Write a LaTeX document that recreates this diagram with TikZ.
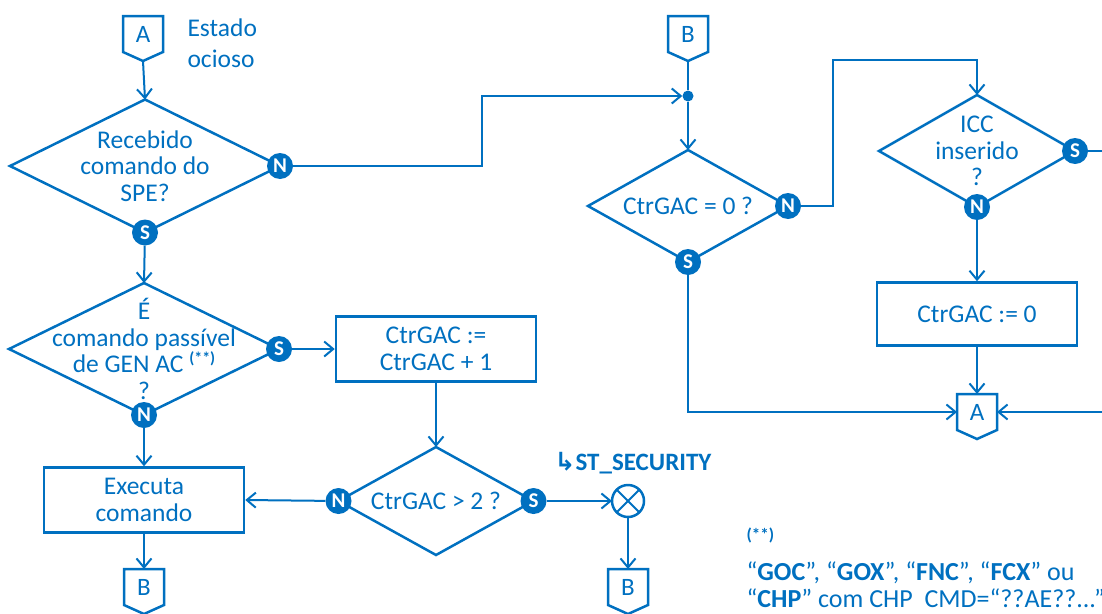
\documentclass[tikz,border=0pt]{standalone}
\usepackage{fontspec}
\setmainfont{Carlito}
\newfontfamily\symfont{DejaVu Sans}
\usetikzlibrary{shapes.geometric,arrows.meta}
\definecolor{flowblue}{HTML}{0070C0}
\tikzset{
  every node/.style={text=flowblue},
  box/.style={draw=flowblue,line width=2.5pt,minimum width=200pt,minimum height=65pt,inner sep=0pt,align=center,font=\fontsize{25.5}{27}\selectfont},
  decision/.style={draw=flowblue,line width=2.5pt,shape=diamond,inner sep=0pt,outer sep=0pt},
  qtext/.style={align=center,font=\fontsize{25.5}{26.5}\selectfont},
  yesno/.style={circle,fill=flowblue,text=white,inner sep=0pt,minimum size=26pt,font=\fontsize{21}{21}\bfseries\selectfont},
  pgbox/.style={minimum width=40pt,minimum height=36pt,inner sep=0pt,outer sep=0pt,font=\fontsize{25}{25}\selectfont},
  pgline/.style={draw=flowblue,line width=2.5pt,line join=miter},
  flow/.style={draw=flowblue,line width=2pt,-{Straight Barb[length=9pt,width=15pt]}},
  plain/.style={draw=flowblue,line width=2pt},
}
\newcommand{\offpage}[3]{%
  \node[pgbox] (#1) at #2 {#3};
  \draw[pgline] (#1.north west) -- (#1.north east) -- (#1.south east) -- ([yshift=-9pt]#1.south) coordinate (#1-tip) -- (#1.south west) -- cycle;}

\begin{document}
\begin{tikzpicture}[x=1pt,y=-1pt]
\useasboundingbox (0,0) rectangle (1102,613);
\clip (0,0) rectangle (1102,613);

\offpage{aTop}{(143,34)}{A}
\node[anchor=west,align=left,font=\fontsize{25.5}{31}\selectfont] (idle) at (184,43) {Estado\\ocioso};
\node[decision,minimum width=270pt,minimum height=133pt,label={[qtext]center:{Recebido\\comando do\\SPE?}}] (dSpe) at (145,166) {};
\node[yesno] (dSpeN) at (dSpe.east) {N};
\node[yesno] (dSpeS) at (dSpe.south) {S};
\node[decision,minimum width=270pt,minimum height=132pt,label={[qtext]center:{É\\comando passível\\de GEN AC {\fontsize{16}{16}\bfseries\selectfont\raisebox{9pt}{(**)}}\\?}}] (dGen) at (144,349) {};
\node[yesno] (dGenS) at (dGen.east) {S};
\node[yesno] (dGenN) at (dGen.south) {N};
\node[box] (incCtr) at (436,349) {CtrGAC :=\\CtrGAC + 1};
\node[box] (exec) at (144,500) {Executa\\comando};
\node[decision,minimum width=195pt,minimum height=108pt,label={[qtext]center:{CtrGAC > 2 ?}}] (dGt) at (436,501) {};
\node[yesno] (dGtN) at (dGt.west) {N};
\node[yesno] (dGtS) at (dGt.east) {S};
\node[circle,draw=flowblue,line width=2.5pt,minimum size=32pt,inner sep=0pt,outer sep=0pt] (xorSec) at (628,501) {};
\draw[plain] (xorSec.north west) -- (xorSec.south east) (xorSec.north east) -- (xorSec.south west);
\node[anchor=south,font=\fontsize{25}{25}\bfseries\selectfont] (secLbl) at (633,478) {{\symfont ↳}ST\_SECURITY};
\offpage{bLeft}{(144,587)}{B}
\offpage{bMid}{(628,587)}{B}

\offpage{bTop}{(688,34)}{B}
\node[circle,fill=flowblue,minimum size=11pt,inner sep=0pt] (jB) at (688,96) {};
\node[decision,minimum width=200pt,minimum height=112pt,label={[qtext]center:{CtrGAC = 0 ?}}] (dZero) at (688,206) {};
\node[yesno] (dZeroN) at (dZero.east) {N};
\node[yesno] (dZeroS) at (dZero.south) {S};
\node[decision,minimum width=196pt,minimum height=112pt,label={[qtext]center:{ICC\\inserido\\?}}] (dIcc) at (977,151) {};
\node[yesno] (dIccS) at (dIcc.east) {S};
\node[yesno] (dIccN) at (dIcc.south) {N};
\node[box,minimum height=63pt] (rstCtr) at (977,314) {CtrGAC := 0};
\offpage{aRight}{(977,412)}{A}
\coordinate (offS) at (1110,151);
\coordinate (offA) at (1110,412);

\node[anchor=base west,font=\fontsize{17}{17}\bfseries\selectfont] (noteMark) at (743,540) {(**)};
\node[anchor=base west,font=\fontsize{26}{26}\selectfont] (noteOne) at (743,580) {“\textbf{GOC}”, “\textbf{GOX}”, “\textbf{FNC}”, “\textbf{FCX}” ou};
\node[anchor=base west,font=\fontsize{26}{26}\selectfont] (noteTwo) at (743,607) {“\textbf{CHP}” com CHP\ \ CMD=“??AE??...”};

\draw[flow] (aTop-tip) -- (dSpe.north);
\draw[flow] (dSpeS) -- (dGen.north);
\draw[flow] (dGenS) -- (incCtr.west);
\draw[flow] (dGenN) -- (exec.north);
\draw[flow] (incCtr.south) -- (dGt.north);
\draw[flow] (dGtN) -- (exec.east);
\draw[flow] (dGtS) -- (xorSec.west);
\draw[flow] (xorSec.south) -- (bMid.north);
\draw[flow] (exec.south) -- (bLeft.north);
\draw[flow] (dSpeN) -- ++(202,0) |- (jB);
\draw[plain] (bTop-tip) -- (jB);
\draw[flow] (jB) -- (dZero.north);
\draw[flow] (dZeroN) -- ++(45,0) |- ([yshift=35pt]dIcc.north) -- (dIcc.north);
\draw[plain] (dIccS) -- (offS);
\draw[flow] (dIccN) -- (rstCtr.north);
\draw[flow] (rstCtr.south) -- (aRight.north);
\draw[flow] (dZeroS) |- (aRight.west);
\draw[flow] (offA) -- (aRight.east);
\end{tikzpicture}
\end{document}
